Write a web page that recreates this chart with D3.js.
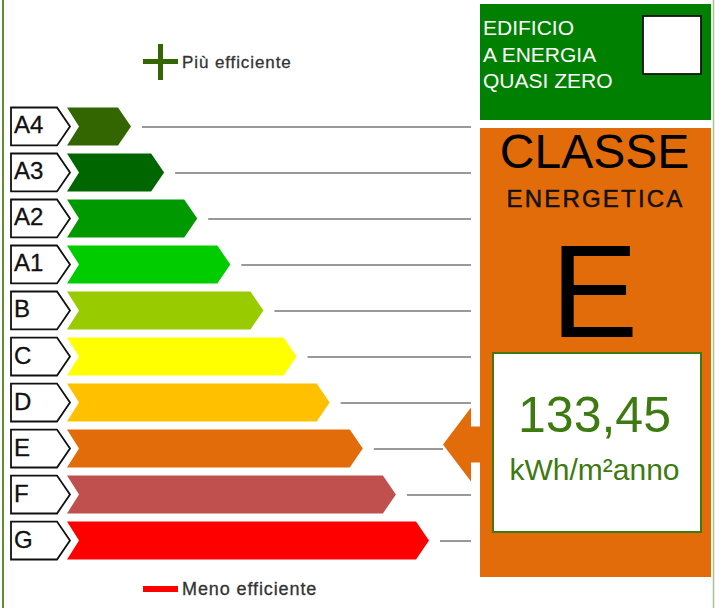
<!DOCTYPE html>
<html>
<head>
<meta charset="utf-8">
<script src="https://cdn.jsdelivr.net/npm/d3@7"></script>
<style>
  html, body { margin: 0; padding: 0; background: #fff; }
  svg { display: block; font-family: "Liberation Sans", Arial, sans-serif; }
</style>
</head>
<body>
<div id="chart"></div>
<script>
// classes from most to least efficient
const classes = ["A4", "A3", "A2", "A1", "B", "C", "D", "E", "F", "G"];
const classColors = ["#336600", "#006600", "#009900", "#00cc00", "#99cc00",
                     "#ffff00", "#ffc000", "#e36c0a", "#c0504d", "#ff0000"];
// bar length step (1 = shortest)
const barSteps = [1, 2, 3, 4, 5, 6, 7, 8, 9, 10];

const currentClass = "E";
const energyValue = "133,45";
const energyUnit = "kWh/m²anno";
const nzebLines = ["EDIFICIO", "A ENERGIA", "QUASI ZERO"];
const titleLines = ["CLASSE", "ENERGETICA"];
const topLegend = "Più efficiente";
const bottomLegend = "Meno efficiente";

const W = 715, H = 608;
const svg = d3.select("#chart").append("svg")
  .attr("width", W).attr("height", H);

// frame edges
svg.append("line").attr("x1", 3).attr("x2", 3).attr("y1", 0).attr("y2", H)
  .attr("stroke", "#5f8f2f").attr("stroke-width", 2);
svg.append("line").attr("x1", 713.5).attr("x2", 713.5).attr("y1", 0).attr("y2", H)
  .attr("stroke", "#a9c78b").attr("stroke-width", 1.5);

// scales
const y = d3.scaleBand()
  .domain(classes)
  .range([107.5, 559.5])
  .paddingInner(0.175)
  .paddingOuter(0);

const tipX = d3.scaleLinear()
  .domain([1, 10])
  .range([131, 429]);

const barLeft = 67, notch = 12, point = 13;
const lineEnd = 471;
const panelX = 480, panelW = 231;

const rows = classes.map((c, i) => ({ name: c, color: classColors[i], step: barSteps[i] }));

const g = svg.append("g");

const row = g.selectAll("g.row").data(rows).join("g").attr("class", "row");

// label boxes
row.append("path")
  .attr("d", d => {
    const t = y(d.name), b = t + y.bandwidth(), m = t + y.bandwidth() / 2;
    return `M11,${t} L57,${t} L70,${m} L57,${b} L11,${b} Z`;
  })
  .attr("fill", "#fff")
  .attr("stroke", "#111")
  .attr("stroke-width", 1.8);

row.append("text")
  .attr("x", 14)
  .attr("y", d => y(d.name) + y.bandwidth() / 2 + 7)
  .attr("font-size", 24)
  .attr("fill", "#111")
  .attr("stroke", "#111").attr("stroke-width", 0.3)
  .text(d => d.name);

// arrow bars
row.append("path")
  .attr("d", d => {
    const t = y(d.name), b = t + y.bandwidth(), m = t + y.bandwidth() / 2;
    const tx = tipX(d.step);
    return `M${barLeft},${t} L${tx - point},${t} L${tx},${m} L${tx - point},${b} L${barLeft},${b} L${barLeft + notch},${m} Z`;
  })
  .attr("fill", d => d.color);

// guide lines
const arrowTip = 443;
row.append("line")
  .attr("x1", d => tipX(d.step) + 11)
  .attr("x2", d => d.name === currentClass ? arrowTip : lineEnd)
  .attr("y1", d => y(d.name) + y.bandwidth() / 2 + 0.5)
  .attr("y2", d => y(d.name) + y.bandwidth() / 2 + 0.5)
  .attr("stroke", "#777")
  .attr("stroke-width", 1.5);

// legends
const legend = svg.append("g");
legend.append("rect").attr("x", 143).attr("y", 59).attr("width", 35).attr("height", 5).attr("fill", "#336600");
legend.append("rect").attr("x", 158).attr("y", 44).attr("width", 5).attr("height", 36).attr("fill", "#336600");
legend.append("text").attr("x", 182).attr("y", 68).attr("font-size", 17)
  .attr("letter-spacing", 0.9).attr("fill", "#333")
  .attr("stroke", "#333").attr("stroke-width", 0.3).text(topLegend);

legend.append("rect").attr("x", 143).attr("y", 586).attr("width", 35).attr("height", 6).attr("fill", "#ff0000");
legend.append("text").attr("x", 182).attr("y", 595).attr("font-size", 18)
  .attr("letter-spacing", 0.9).attr("fill", "#333")
  .attr("stroke", "#333").attr("stroke-width", 0.3).text(bottomLegend);

// NZEB panel
svg.append("rect").attr("x", panelX).attr("y", 4).attr("width", panelW).attr("height", 116)
  .attr("fill", "#008000");
svg.append("rect").attr("x", 643).attr("y", 16).attr("width", 58).attr("height", 58)
  .attr("fill", "#fff").attr("stroke", "#111").attr("stroke-width", 1.8);
svg.append("g").selectAll("text").data(nzebLines).join("text")
  .attr("x", 483)
  .attr("y", (d, i) => 35 + i * 26.5)
  .attr("font-size", 21)
  .attr("fill", "#fff")
  .text(d => d);

// class panel
const selIdx = classes.indexOf(currentClass);
svg.append("rect").attr("x", panelX).attr("y", 128).attr("width", panelW).attr("height", 449)
  .attr("fill", classColors[selIdx]);

const cx = panelX + panelW / 2 - 1;
svg.append("text").attr("x", cx).attr("y", 168).attr("text-anchor", "middle")
  .attr("font-size", 48).attr("fill", "#000").text(titleLines[0]);
svg.append("text").attr("x", cx + 1).attr("y", 207).attr("text-anchor", "middle")
  .attr("font-size", 24).attr("letter-spacing", 2.2).attr("fill", "#111")
  .attr("stroke", "#111").attr("stroke-width", 0.5).text(titleLines[1]);
svg.append("text").attr("x", cx).attr("y", 337).attr("text-anchor", "middle")
  .attr("font-size", 131).attr("fill", "#000").text(currentClass);

// pointer arrow to selected class
const ay = y(currentClass) + y.bandwidth() / 2 - 4;
svg.append("path")
  .attr("d", `M${arrowTip},${ay} L${lineEnd},${ay - 37} L${lineEnd},${ay - 18} L${panelX + 1},${ay - 18} L${panelX + 1},${ay + 18} L${lineEnd},${ay + 18} L${lineEnd},${ay + 37} Z`)
  .attr("fill", classColors[selIdx]);

// value box
svg.append("rect").attr("x", 493).attr("y", 353).attr("width", 208).attr("height", 179)
  .attr("fill", "#fff").attr("stroke", "#3f7a10").attr("stroke-width", 2);
svg.append("text").attr("x", cx).attr("y", 432).attr("text-anchor", "middle")
  .attr("font-size", 50).attr("fill", "#3d7a0f").text(energyValue);
svg.append("text").attr("x", cx).attr("y", 480).attr("text-anchor", "middle")
  .attr("font-size", 30).attr("fill", "#3d7a0f").text(energyUnit);
</script>
</body>
</html>
